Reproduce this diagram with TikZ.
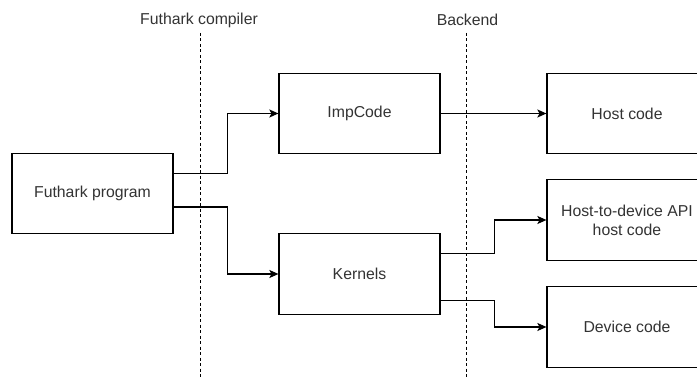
\documentclass[tikz,border=0pt]{standalone}
\usepackage{fontspec}
\setmainfont{Liberation Sans}
\usetikzlibrary{arrows.meta,calc}
\definecolor{txt}{HTML}{333333}
\tikzset{
  box/.style={draw=black, line width=1.2pt, minimum width=161pt, minimum height=80.5pt, inner sep=0pt, text=txt, font=\fontsize{15.8}{19}\selectfont, align=center},
  conn/.style={draw=black, line width=1.2pt, -{Stealth[length=9pt,width=8pt,inset=2pt]}},
  divider/.style={draw=black, line width=1pt, dash pattern=on 3pt off 2.5pt},
  lbl/.style={text=txt, font=\fontsize{15.8}{19}\selectfont, inner sep=0pt}
}
\begin{document}
\begin{tikzpicture}[x=1pt,y=-1pt]
\useasboundingbox (0,0) rectangle (697,377);
% dividers
\coordinate (c1top) at (200,33);
\coordinate (c1bot) at (200,377);
\coordinate (c2top) at (466.5,33);
\coordinate (c2bot) at (466.5,377);
\draw[divider] (c1top) -- (c1bot);
\draw[divider] (c2top) -- (c2bot);
\node[lbl] (lcomp) at (199,20) {Futhark compiler};
\node[lbl] (lback) at (467.5,20) {Backend};
% boxes
\node[box] (fp) at (92.5,193.5) {Futhark program};
\node[box] (imp) at (359.5,113.5) {ImpCode};
\node[box] (ker) at (359.5,274) {Kernels};
\node[box, minimum width=160pt] (host) at (627,113.5) {Host code};
\node[box, minimum width=160pt] (h2d) at (627,220) {Host-to-device API\\host code};
\node[box, minimum width=160pt] (dev) at (627,327) {Device code};
% connectors
\draw[conn] ([yshift=20pt]fp.east) -- ++(54,0) |- (imp.west);
\draw[conn] ([yshift=-13.5pt]fp.east) -- ++(54,0) |- (ker.west);
\draw[conn] (imp.east) -- (host.west);
\draw[conn] ([yshift=20.7pt]ker.east) -- ++(53.5,0) |- (h2d.west);
\draw[conn] ([yshift=-26.7pt]ker.east) -- ++(53.5,0) |- (dev.west);
\end{tikzpicture}
\end{document}
